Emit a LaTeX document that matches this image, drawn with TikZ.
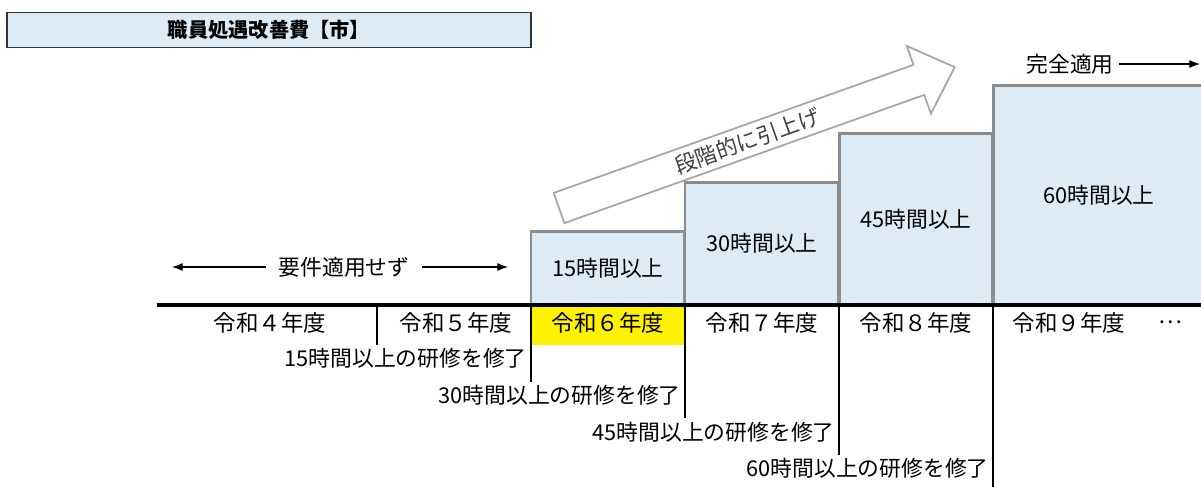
\documentclass[tikz,border=0pt]{standalone}
\usepackage{fontspec}
\setmainfont{Noto Sans CJK JP}
\usetikzlibrary{arrows.meta}
\definecolor{cellblue}{HTML}{DDEBF7}
\definecolor{stepgray}{HTML}{8C8C8C}
\definecolor{arrowgray}{HTML}{A6A6A6}
\begin{document}
\begin{tikzpicture}[x=0.02cm, y=-0.02cm,
    font=\fontsize{12.4}{14}\selectfont,
    stepbox/.style={draw=stepgray, line width=1.7pt, fill=cellblue, anchor=south west,
      minimum width=3.08cm, inner sep=0, outer sep=0},
    yearlabel/.style={inner sep=0, font=\fontsize{12.8}{14}\selectfont},
    donelabel/.style={anchor=east, inner sep=0},
    tick/.style={line width=0.8pt},
    thinarrow/.style={-{Latex[length=6pt,width=4.5pt]}, line width=0.6pt}]
    \useasboundingbox (0,0) rectangle (1201,487);
    \node[draw=black!80, line width=0.8pt, fill=cellblue, minimum width=10.48cm, minimum height=0.7cm,
      font=\fontsize{11.5}{13}\selectfont\bfseries] (title) at (269,30) {職員処遇改善費【市】};
    \begin{scope}[shift={(559,208)}, rotate=19.6]
        \draw[arrowgray, line width=1pt, fill=white] (0,-16) -- (382,-16) -- (382,-36) -- (420,0)
            -- (382,36) -- (382,16) -- (0,16) -- cycle;
        \node[rotate=19.6, text=black!75] (rise) at (200,0) {段階的に引上げ};
    \end{scope}
    \node[stepbox, minimum height=1.48cm] (h15) at (531,305) {15時間以上};
    \node[stepbox, minimum height=2.46cm] (h30) at (685,305) {30時間以上};
    \node[stepbox, minimum height=3.44cm] (h45) at (839,305) {45時間以上};
    \node[stepbox, minimum height=4.4cm, minimum width=4.24cm] (h60) at (993,305) {60時間以上};
    \fill[yellow] (531,307) rectangle (685,345);
    \draw[line width=2.3pt] (157,305) -- (1201,305);
    \foreach \x/\y in {377/345, 531/382, 685/418, 839/455, 993/487}
        \draw[tick] (\x,306) -- (\x,\y);
    \node[yearlabel] (y4) at (270,323) {令和４年度};
    \node[yearlabel] (y5) at (456,323) {令和５年度};
    \node[yearlabel] (y6) at (608,323) {令和６年度};
    \node[yearlabel] (y7) at (762,323) {令和７年度};
    \node[yearlabel] (y8) at (916,323) {令和８年度};
    \node[yearlabel] (y9) at (1069,323) {令和９年度};
    \node[yearlabel] (more) at (1170,322) {…};
    \node[donelabel] (d15) at (527,358) {15時間以上の研修を修了};
    \node[donelabel] (d30) at (681,395) {30時間以上の研修を修了};
    \node[donelabel] (d45) at (835,432) {45時間以上の研修を修了};
    \node[donelabel] (d60) at (989,468) {60時間以上の研修を修了};
    \node[inner xsep=0.25cm] (req) at (344,267) {要件適用せず};
    \coordinate (reqL) at (172,267);
    \coordinate (reqR) at (508,267);
    \draw[thinarrow] (req.west) -- (reqL);
    \draw[thinarrow] (req.east) -- (reqR);
    \node[inner xsep=0.1cm] (full) at (1070,64) {完全適用};
    \coordinate (fullR) at (1200,64);
    \draw[thinarrow] (full.east) -- (fullR);
\end{tikzpicture}
\end{document}
